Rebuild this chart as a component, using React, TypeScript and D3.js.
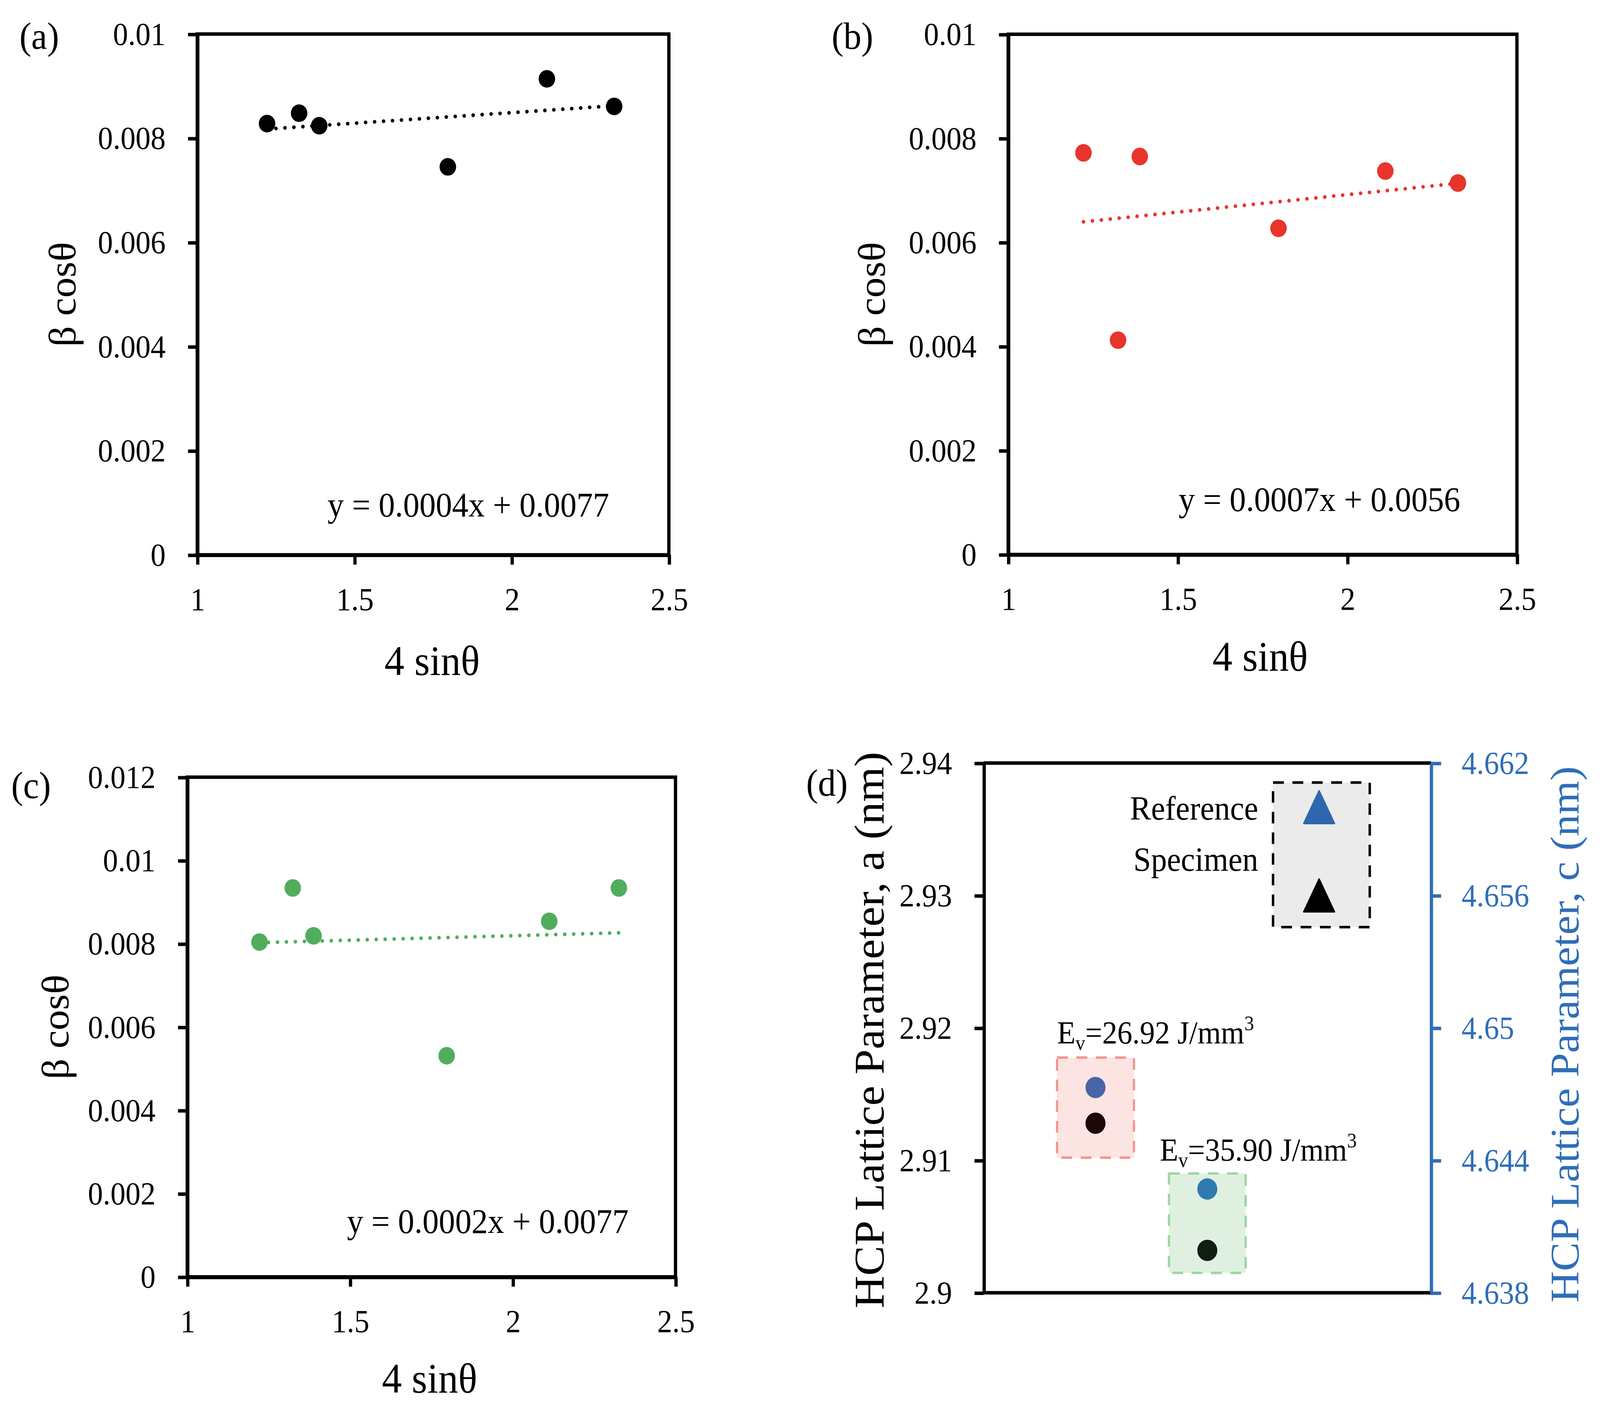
import { useEffect, useRef } from 'react';
import * as d3 from 'd3';

// 4 sinθ of the six peaks, shared by panels (a)-(c)
const sinTheta = [1.222, 1.324, 1.388, 1.797, 2.112, 2.326];
// β cosθ per panel
const betaCosA = [0.00828, 0.00848, 0.00824, 0.00745, 0.00914, 0.00861];
const betaCosB = [0.00772, 0.00412, 0.00765, 0.00627, 0.00737, 0.00714];
const betaCosC = [0.00804, 0.00934, 0.00819, 0.00531, 0.00854, 0.00934];
const fitLabels = ['y = 0.0004x + 0.0077', 'y = 0.0007x + 0.0056', 'y = 0.0002x + 0.0077'];

const xTicks = [1, 1.5, 2, 2.5];
const yTicksAB = [0, 0.002, 0.004, 0.006, 0.008, 0.01];
const yTicksC = [0, 0.002, 0.004, 0.006, 0.008, 0.01, 0.012];

// panel (d): lattice parameters
const energyLabels = ['26.92', '35.90'];
const groupPos = [1, 2];
const latticeA = [2.9128, 2.9032];
const latticeC = [4.6473, 4.6427];
const referencePos = 3;
const referenceA = 2.93;
const referenceC = 4.66;
const aTicks = [2.9, 2.91, 2.92, 2.93, 2.94];
const cTicks = [4.638, 4.644, 4.65, 4.656, 4.662];

const W = 4364;
const H = 3617;
const VW = 1568;
const VH = (VW * H) / W;

const FONT = "'Liberation Serif', 'Times New Roman', serif";
const LW = 3.2;
const BLUE = '#2F6EB8';
const TICK_FONT = 29.5;

type Panel = {
  label: string;
  values: number[];
  yTicks: number[];
  color: string;
  fit: string;
  left: number;
  right: number;
  top: number;
  bottom: number;
  labelPos: [number, number];
  yTitleX: number;
  xTitle: [number, number];
  fitPos: [number, number];
};

const panels: Panel[] = [
  {
    label: '(a)', values: betaCosA, yTicks: yTicksAB, color: '#000000', fit: fitLabels[0],
    left: 193.3, right: 655.5, top: 31.3, bottom: 510.3,
    labelPos: [19, 45], yTitleX: 74, xTitle: [423.5, 621], fitPos: [321, 475],
  },
  {
    label: '(b)', values: betaCosB, yTicks: yTicksAB, color: '#E8352B', fit: fitLabels[1],
    left: 988, right: 1486.6, top: 31.5, bottom: 510,
    labelPos: [815, 45], yTitleX: 867, xTitle: [1235, 617], fitPos: [1155, 470],
  },
  {
    label: '(c)', values: betaCosC, yTicks: yTicksC, color: '#51AD5E', fit: fitLabels[2],
    left: 183.5, right: 662, top: 714.8, bottom: 1174.4,
    labelPos: [11, 734], yTitleX: 67, xTitle: [421, 1281], fitPos: [340, 1134],
  },
];

function styleAxis(g: d3.Selection<SVGGElement, unknown, null, undefined>, color: string) {
  g.attr('font-family', FONT).attr('font-size', TICK_FONT);
  g.select('.domain').attr('stroke', color).attr('stroke-width', LW);
  g.selectAll('.tick line').attr('stroke', color).attr('stroke-width', LW);
  g.selectAll('.tick text').attr('fill', color);
}

function drawScatter(svg: d3.Selection<SVGSVGElement, unknown, null, undefined>, p: Panel) {
  const x = d3.scaleLinear().domain([1, 2.5]).range([p.left, p.right]);
  const yMax = p.yTicks[p.yTicks.length - 1];
  const y = d3.scaleLinear().domain([0, yMax]).range([p.bottom, p.top]);

  // frame
  svg.append('rect')
    .attr('x', p.left).attr('y', p.top)
    .attr('width', p.right - p.left).attr('height', p.bottom - p.top)
    .attr('fill', 'none').attr('stroke', '#000').attr('stroke-width', LW);

  const gx = svg.append('g')
    .attr('transform', `translate(0,${p.bottom})`)
    .call(d3.axisBottom(x).tickValues(xTicks).tickSize(9).tickSizeOuter(0).tickPadding(21).tickFormat((d) => String(d)));
  styleAxis(gx, '#000');

  const gy = svg.append('g')
    .attr('transform', `translate(${p.left},0)`)
    .call(d3.axisLeft(y).tickValues(p.yTicks).tickSize(9).tickSizeOuter(0).tickPadding(22).tickFormat((d) => String(d)));
  styleAxis(gy, '#000');

  // least-squares trendline
  const mx = d3.mean(sinTheta) as number;
  const my = d3.mean(p.values) as number;
  const slope =
    d3.sum(sinTheta, (v, i) => (v - mx) * (p.values[i] - my)) /
    d3.sum(sinTheta, (v) => (v - mx) * (v - mx));
  const intercept = my - slope * mx;
  const ext = d3.extent(sinTheta) as [number, number];
  const line = d3.line<number>().x((d) => x(d)).y((d) => y(intercept + slope * d));
  svg.append('path')
    .attr('d', line(ext))
    .attr('fill', 'none')
    .attr('stroke', p.color)
    .attr('stroke-width', 3.5)
    .attr('stroke-linecap', 'round')
    .attr('stroke-dasharray', '0 8.8');

  svg.append('g')
    .selectAll('circle')
    .data(p.values)
    .enter()
    .append('circle')
    .attr('cx', (_, i) => x(sinTheta[i]))
    .attr('cy', (d) => y(d))
    .attr('r', 8.1)
    .attr('fill', p.color);

  svg.append('text')
    .attr('x', p.fitPos[0]).attr('y', p.fitPos[1])
    .attr('font-family', FONT).attr('font-size', 32)
    .text(p.fit);

  svg.append('text')
    .attr('transform', `translate(${p.yTitleX},${(p.top + p.bottom) / 2}) rotate(-90)`)
    .attr('text-anchor', 'middle')
    .attr('font-family', FONT).attr('font-size', 37.5)
    .text('β cosθ');

  svg.append('text')
    .attr('x', p.xTitle[0]).attr('y', p.xTitle[1])
    .attr('text-anchor', 'middle')
    .attr('font-family', FONT).attr('font-size', 39)
    .text('4 sinθ');

  svg.append('text')
    .attr('x', p.labelPos[0]).attr('y', p.labelPos[1])
    .attr('font-family', FONT).attr('font-size', 35)
    .text(p.label);
}

function drawLattice(svg: d3.Selection<SVGSVGElement, unknown, null, undefined>) {
  const left = 964;
  const right = 1402.3;
  const top = 701.8;
  const bottom = 1189;
  const x = d3.scaleLinear().domain([0, 4]).range([left, right]);
  const yA = d3.scaleLinear().domain([2.9, 2.94]).range([bottom, top]);
  const yC = d3.scaleLinear().domain([4.638, 4.662]).range([bottom, top]);

  // shaded boxes behind each energy group and the reference legend
  const boxes = [
    { x0: 0.656, x1: 1.344, a0: 2.9102, a1: 2.91776, fill: '#FCE4E3', stroke: '#F4958C' },
    { x0: 1.657, x1: 2.343, a0: 2.9015, a1: 2.90901, fill: '#DFF0E0', stroke: '#9DD6A0' },
    { x0: 2.588, x1: 3.453, a0: 2.92761, a1: 2.93853, fill: '#EBEBEB', stroke: '#000000' },
  ];
  svg.append('g')
    .selectAll('rect')
    .data(boxes)
    .enter()
    .append('rect')
    .attr('x', (d) => x(d.x0))
    .attr('y', (d) => yA(d.a1))
    .attr('width', (d) => x(d.x1) - x(d.x0))
    .attr('height', (d) => yA(d.a0) - yA(d.a1))
    .attr('fill', (d) => d.fill)
    .attr('stroke', (d) => d.stroke)
    .attr('stroke-width', (d, i) => (i === 2 ? 2.4 : 2.2))
    .attr('stroke-dasharray', '10.6 8.4');

  // top and bottom frame lines
  svg.append('line').attr('x1', left).attr('x2', right).attr('y1', top).attr('y2', top)
    .attr('stroke', '#000').attr('stroke-width', LW);
  svg.append('line').attr('x1', left).attr('x2', right).attr('y1', bottom).attr('y2', bottom)
    .attr('stroke', '#000').attr('stroke-width', LW);

  const gl = svg.append('g')
    .attr('transform', `translate(${left},0)`)
    .call(d3.axisLeft(yA).tickValues(aTicks).tickSize(9).tickSizeOuter(0).tickPadding(22).tickFormat((d) => String(d)));
  styleAxis(gl, '#000');

  const gr = svg.append('g')
    .attr('transform', `translate(${right},0)`)
    .call(d3.axisRight(yC).tickValues(cTicks).tickSize(10).tickSizeOuter(0).tickPadding(20).tickFormat((d) => String(d)));
  styleAxis(gr, BLUE);

  // measured points
  const blueDots = ['#4A64A8', '#2F7AAE'];
  const darkDots = ['#1E0707', '#0F1D12'];
  svg.append('g')
    .selectAll('circle')
    .data(latticeC)
    .enter()
    .append('circle')
    .attr('cx', (_, i) => x(groupPos[i]))
    .attr('cy', (d) => yC(d))
    .attr('r', 9.8)
    .attr('fill', (_, i) => blueDots[i]);
  svg.append('g')
    .selectAll('circle')
    .data(latticeA)
    .enter()
    .append('circle')
    .attr('cx', (_, i) => x(groupPos[i]))
    .attr('cy', (d) => yA(d))
    .attr('r', 9.8)
    .attr('fill', (_, i) => darkDots[i]);

  // reference triangles
  const tri = (cx: number, cy: number) =>
    `M${cx - 15},${cy + 15}L${cx},${cy - 15}L${cx + 15},${cy + 15}Z`;
  svg.append('path').attr('d', tri(x(referencePos), yC(referenceC))).attr('fill', '#2E67AD')
    .attr('stroke', '#2E67AD').attr('stroke-width', 1.5).attr('stroke-linejoin', 'round');
  svg.append('path').attr('d', tri(x(referencePos), yA(referenceA))).attr('fill', '#000')
    .attr('stroke', '#000').attr('stroke-width', 1.5).attr('stroke-linejoin', 'round');

  svg.append('text').attr('x', 1233).attr('y', 754).attr('text-anchor', 'end')
    .attr('font-family', FONT).attr('font-size', 31).text('Reference');
  svg.append('text').attr('x', 1233).attr('y', 801).attr('text-anchor', 'end')
    .attr('font-family', FONT).attr('font-size', 31).text('Specimen');

  const evPos: [number, number][] = [[1036, 959.6], [1136.7, 1067.4]];
  energyLabels.forEach((e, i) => {
    const t = svg.append('text')
      .attr('x', evPos[i][0]).attr('y', evPos[i][1])
      .attr('font-family', FONT).attr('font-size', 29.5);
    t.append('tspan').text('E');
    t.append('tspan').attr('font-size', 19).attr('dy', 6).text('v');
    t.append('tspan').attr('dy', -6).text(`=${e} J/mm`);
    t.append('tspan').attr('font-size', 19).attr('dy', -12).text('3');
  });

  svg.append('text')
    .attr('transform', `translate(866,${(top + bottom) / 2 + 2}) rotate(-90)`)
    .attr('text-anchor', 'middle')
    .attr('font-family', FONT).attr('font-size', 41.5)
    .text('HCP Lattice Parameter, a (nm)');
  svg.append('text')
    .attr('transform', `translate(1547,${(top + bottom) / 2 + 6}) rotate(-90)`)
    .attr('text-anchor', 'middle')
    .attr('font-family', FONT).attr('font-size', 40)
    .attr('fill', BLUE)
    .text('HCP Lattice Parameter, c (nm)');

  svg.append('text')
    .attr('x', 790).attr('y', 732)
    .attr('font-family', FONT).attr('font-size', 35)
    .text('(d)');
}

export default function App() {
  const svgRef = useRef<SVGSVGElement>(null);

  useEffect(() => {
    if (!svgRef.current) return;
    const svg = d3.select(svgRef.current);
    svg.selectAll('*').remove();
    svg.append('rect').attr('width', VW).attr('height', VH).attr('fill', '#fff');
    panels.forEach((p) => drawScatter(svg, p));
    drawLattice(svg);
  }, []);

  // stretch over the whole viewport so the layout keeps the reference proportions
  return (
    <svg
      ref={svgRef}
      width={W}
      height={H}
      viewBox={`0 0 ${VW} ${VH}`}
      preserveAspectRatio="none"
      style={{ position: 'fixed', left: 0, top: 0, width: '100vw', height: '100vh', display: 'block' }}
    />
  );
}
